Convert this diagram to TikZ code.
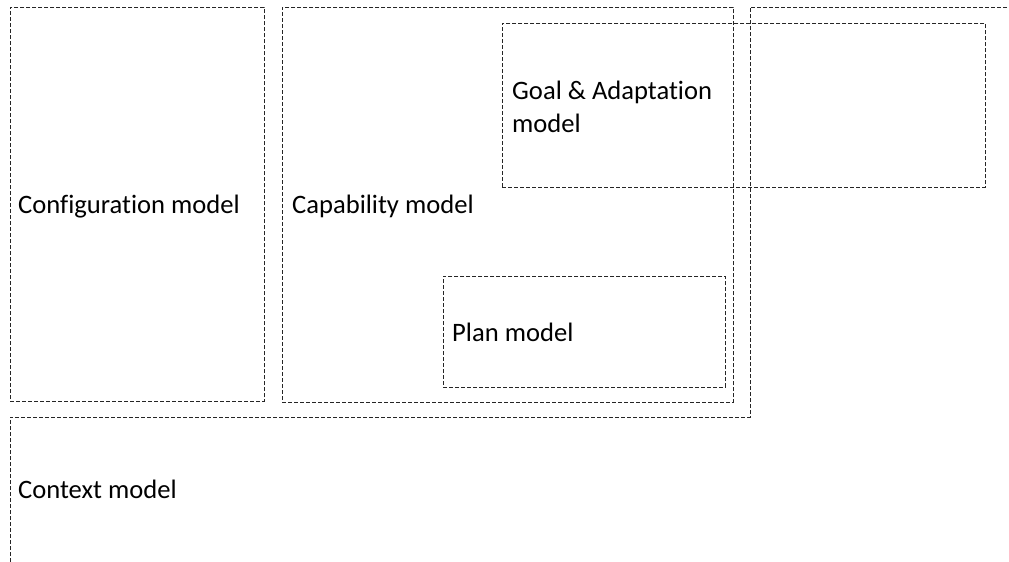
\documentclass[tikz,border=0pt]{standalone}
\usepackage{fontspec}
\setmainfont{Carlito}[Ligatures=NoCommon]
\begin{document}
\begin{tikzpicture}[x=1pt,y=-1pt,
  dashline/.style={draw=black!85, line width=0.9pt, dash pattern=on 4pt off 2pt},
  box/.style={dashline, rectangle, inner sep=0pt, anchor=north west},
  lbl/.style={anchor=base west, font=\fontsize{26.6}{33}\selectfont, inner sep=0pt, align=left, text=black}]
\useasboundingbox (0,0) rectangle (1009,562);
% boxes
\node[box, minimum width=254pt, minimum height=394pt] (conf) at (10,7) {};
\node[box, minimum width=451pt, minimum height=395pt] (cap) at (282,7) {};
\node[box, minimum width=483pt, minimum height=164pt] (goal) at (502,23) {};
\node[box, minimum width=282pt, minimum height=111pt] (plan) at (443,276) {};
% context model outline
\coordinate (c1) at (10,562);
\coordinate (c2) at (10,417);
\coordinate (c3) at (750,417);
\coordinate (c4) at (750,7);
\coordinate (c5) at (1009,7);
\draw[dashline] (c1) -- (c2) -- (c3) -- (c4) -- (c5);
% labels
\node[lbl] (confl) at (18,213) {Configuration model};
\node[lbl] (capl) at (292,213) {Capability model};
\node[lbl] (goall) at (512,132) {Goal \& Adaptation\\model};
\node[lbl] (planl) at (452,341) {Plan model};
\node[lbl] (ctxl) at (18,498) {Context model};
\end{tikzpicture}
\end{document}
